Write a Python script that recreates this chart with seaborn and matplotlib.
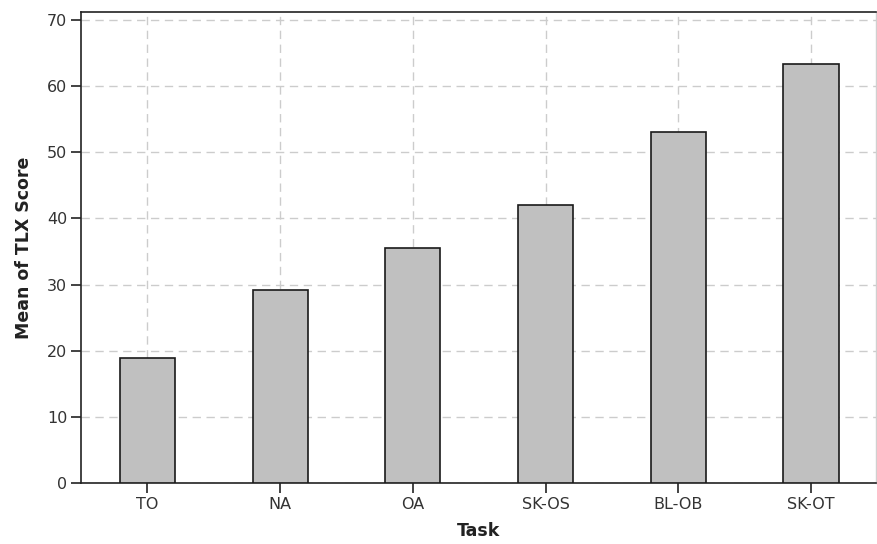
import matplotlib
matplotlib.use("Agg")
import matplotlib.pyplot as plt
import seaborn as sns
import pandas as pd

tasks = ["TO", "NA", "OA", "SK-OS", "BL-OB", "SK-OT"]
scores = [18.9, 29.2, 35.5, 42.1, 53.1, 63.4]
yticks = [0, 10, 20, 30, 40, 50, 60, 70]

df = pd.DataFrame({"Task": tasks, "Score": scores})

sns.set_theme(style="white")
plt.rcParams['font.family'] = ['DejaVu Sans']

fig = plt.figure(figsize=(8.77, 5.44), dpi=100)
ax = fig.add_axes([0.0924, 0.1121, 0.9065, 0.8658])

sns.barplot(data=df, x="Task", y="Score", order=tasks, color="#c0c0c0",
            saturation=1, width=0.415, edgecolor="#1a1a1a", linewidth=1.2, ax=ax, zorder=3)

ax.set_xlim(-0.5, 5.49)
ax.set_ylim(0, 71.2)
ax.set_yticks(yticks)
ax.set_yticklabels([str(v) for v in yticks])
ax.set_axisbelow(True)
ax.grid(True, axis="both", color="#cccccc", linestyle=(0, (6, 4)), linewidth=1)

for s in ["left", "bottom", "top"]:
    ax.spines[s].set_color("#222222")
    ax.spines[s].set_linewidth(1.2)
ax.spines["right"].set_color("#d0d0d0")
ax.spines["right"].set_linewidth(1)

ax.tick_params(axis="both", which="major", direction="out", length=7, width=1.2,
               color="#222222", labelsize=11.5, labelcolor="#333333", bottom=True, left=True, pad=3)

ax.set_xlabel("Task", fontsize=12.5, fontweight="bold", color="#222222", labelpad=7)
ax.set_ylabel("Mean of TLX Score", fontsize=12.5, fontweight="bold", color="#222222", labelpad=10)

fig.savefig("out.png", dpi=100)
